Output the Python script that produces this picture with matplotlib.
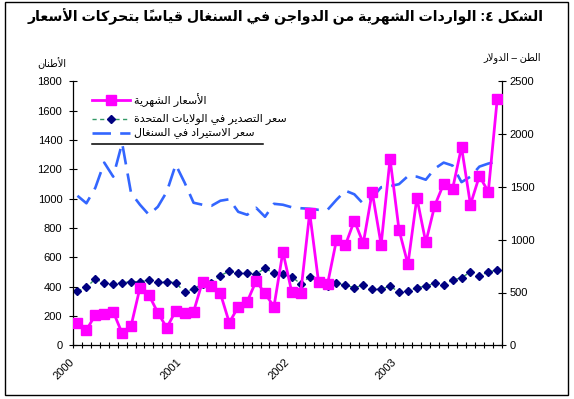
import matplotlib
matplotlib.use('Agg')
import matplotlib.pyplot as plt
from matplotlib.lines import Line2D
from matplotlib.patches import Rectangle
import numpy as np

plt.rcParams['font.family'] = ['Liberation Sans', 'DejaVu Sans']

# ---------------- data ----------------
months = np.arange(48)
year_labels = ['2000', '2001', '2002', '2003']
# monthly imports (tonnes, left axis)
imports_t = [154, 104, 207, 213, 229, 82, 132, 393, 343, 222, 120, 234,
             218, 229, 434, 406, 354, 154, 263, 297, 438, 354, 263, 638,
             361, 359, 904, 429, 418, 718, 684, 850, 695, 1045, 686, 1272,
             788, 552, 1006, 702, 952, 1100, 1066, 1352, 959, 1154, 1047, 1680]
# US export price ($/t, right axis)
us_export = [513, 548, 630, 586, 580, 592, 602, 602, 618, 596, 602, 592,
             504, 535, 580, 592, 659, 703, 681, 681, 675, 729, 681, 675,
             649, 580, 649, 602, 564, 586, 570, 545, 570, 532, 532, 561,
             504, 513, 545, 561, 586, 573, 618, 640, 694, 659, 694, 713]
# Senegal import price ($/t, right axis)
sen_import = [1416, 1345, 1492, 1730, 1597, 1915, 1442, 1331, 1236, 1312, 1454, 1711,
              1540, 1350, 1331, 1321, 1369, 1383, 1264, 1236, 1302, 1217, 1340, 1331,
              1307, 1298, 1293, 1283, 1283, 1378, 1464, 1430, 1340, 1397, 1497, 1507,
              1526, 1602, 1597, 1568, 1673, 1730, 1702, 1545, 1597, 1692, 1721, 1740]

title_txt = 'الشكل ٤: الواردات الشهرية من الدواجن في السنغال قياساً بتحركات الأسعار'
left_unit = 'الأطنان'
right_unit = 'الطن – الدولار'
legend_labels = ['الأسعار الشهرية', 'سعر التصدير في الولايات المتحدة', 'سعر الاستيراد في السنغال']

# ---------------- minimal Arabic shaping ----------------
DUAL = {'ئ': 0xFE89, 'ب': 0xFE8F, 'ت': 0xFE95, 'ث': 0xFE99, 'ج': 0xFE9D, 'ح': 0xFEA1,
        'خ': 0xFEA5, 'س': 0xFEB1, 'ش': 0xFEB5, 'ص': 0xFEB9, 'ض': 0xFEBD, 'ط': 0xFEC1,
        'ظ': 0xFEC5, 'ع': 0xFEC9, 'غ': 0xFECD, 'ف': 0xFED1, 'ق': 0xFED5, 'ك': 0xFED9,
        'ل': 0xFEDD, 'م': 0xFEE1, 'ن': 0xFEE5, 'ه': 0xFEE9, 'ي': 0xFEF1}
RIGHT = {'آ': 0xFE81, 'أ': 0xFE83, 'ؤ': 0xFE85, 'إ': 0xFE87, 'ا': 0xFE8D, 'ة': 0xFE93,
         'د': 0xFEA9, 'ذ': 0xFEAB, 'ر': 0xFEAD, 'ز': 0xFEAF, 'و': 0xFEED, 'ى': 0xFEEF}
NONE = {'ء': 0xFE80}
LAMALEF = {'آ': 0xFEF5, 'أ': 0xFEF7, 'إ': 0xFEF9, 'ا': 0xFEFB}


def shape(text):
    toks = []
    for ch in text:
        if 0x064B <= ord(ch) <= 0x0652 and toks:
            toks[-1][1] += ch
            continue
        toks.append([ch, ''])
    out = []
    i = 0
    while i < len(toks):
        b, m = toks[i]
        if b == 'ل' and i + 1 < len(toks) and toks[i + 1][0] in LAMALEF:
            out.append([b, m + toks[i + 1][1], 'R', LAMALEF[toks[i + 1][0]]])
            i += 2
            continue
        if b in DUAL:
            out.append([b, m, 'D', DUAL[b]])
        elif b in RIGHT:
            out.append([b, m, 'R', RIGHT[b]])
        elif b in NONE:
            out.append([b, m, 'N', NONE[b]])
        else:
            out.append([b, m, None, None])
        i += 1
    glyphs = []
    for j, t in enumerate(out):
        kind = t[2]
        if kind in ('D', 'R'):
            prev = j > 0 and out[j - 1][2] == 'D'
            nxt = kind == 'D' and j + 1 < len(out) and out[j + 1][2] in ('D', 'R')
            if kind == 'D':
                off = 3 if (prev and nxt) else 2 if nxt else 1 if prev else 0
            else:
                off = 1 if prev else 0
            glyphs.append(chr(t[3] + off) + t[1])
        elif kind == 'N':
            glyphs.append(chr(t[3]) + t[1])
        else:
            glyphs.append(t[0] + t[1])
    return ''.join(reversed(glyphs))


# ---------------- figure ----------------
W, H = 574, 399
fig = plt.figure(figsize=(W / 100, H / 100), dpi=100)


def fx(x):
    return x / W


def fy(y):
    return 1 - y / H


ax = fig.add_axes([fx(73), fy(345.3), fx(501.7) - fx(73), fy(81.3) - fy(345.3)])
ax2 = ax.twinx()
ax.set_zorder(ax2.get_zorder() + 1)
ax.patch.set_visible(False)

MAG = '#FF00FF'
GRN = '#339966'
NAV = '#000080'
BLU = '#3366FF'

ax.plot(months, imports_t, color=MAG, lw=2.0, marker='s', ms=7, mec=MAG, mfc=MAG, zorder=5)
ax2.plot(months, us_export, color=GRN, lw=1.0, ls=(0, (3, 2.5)), marker='D', ms=3.6,
         mfc=NAV, mec=NAV, zorder=3)
ax2.plot(months, sen_import, color=BLU, lw=1.9, ls=(0, (7, 3.5)), zorder=2)

ax.set_xlim(-0.5, 47.5)
ax.set_ylim(0, 1800)
ax2.set_ylim(0, 2500)
ax.set_yticks(range(0, 1801, 200))
ax2.set_yticks(range(0, 2501, 500))

ax.set_xticks(np.arange(-0.5, 48, 1), minor=True)
ax.set_xticks([-0.5, 11.5, 23.5, 35.5])
ax.set_xticklabels(year_labels, rotation=45, ha='right', va='center', rotation_mode='anchor')

for a in (ax, ax2):
    a.spines['top'].set_visible(False)
    for s in a.spines.values():
        s.set_linewidth(0.9)
ax.spines['right'].set_visible(False)
ax2.spines['left'].set_visible(False)
ax2.spines['bottom'].set_visible(False)

ax.tick_params(axis='x', which='both', direction='inout', length=4.3, width=0.8)
ax.tick_params(axis='x', which='major', labelsize=8, pad=9)
ax.tick_params(axis='y', direction='inout', length=5.8, width=0.8, labelsize=8, pad=4.8)
ax2.tick_params(axis='y', direction='inout', length=5.8, width=0.8, labelsize=8, pad=2.9)

# titles and unit labels
fig.text(fx(286), fy(17), shape(title_txt), ha='center', va='center', fontsize=10.2,
         fontweight='bold')
fig.text(fx(52), fy(63), shape(left_unit), ha='center', va='center', fontsize=7)
fig.text(fx(512), fy(58), shape(right_unit), ha='center', va='center', fontsize=7)

# legend drawn manually
lx0, lx1, lxm = 91.7, 130, 111
rows_y = [100, 119, 133]
fig.add_artist(Line2D([fx(lx0), fx(lx1)], [fy(rows_y[0])] * 2, transform=fig.transFigure,
                      color=MAG, lw=2.0))
fig.add_artist(Line2D([fx(lxm)], [fy(rows_y[0])], transform=fig.transFigure, marker='s',
                      ms=7, color=MAG))
fig.add_artist(Line2D([fx(lx0), fx(lx1)], [fy(rows_y[1])] * 2, transform=fig.transFigure,
                      color=GRN, lw=1.0, ls=(0, (3, 2.5))))
fig.add_artist(Line2D([fx(lxm)], [fy(rows_y[1])], transform=fig.transFigure, marker='D',
                      ms=3.6, color=NAV))
fig.add_artist(Line2D([fx(lx0), fx(lx1)], [fy(rows_y[2])] * 2, transform=fig.transFigure,
                      color=BLU, lw=1.9, ls=(0, (7, 3.5))))
for yv, lab in zip(rows_y, legend_labels):
    fig.text(fx(134), fy(yv), shape(lab), ha='left', va='center', fontsize=8)
fig.add_artist(Line2D([fx(91.7), fx(263)], [fy(144)] * 2, transform=fig.transFigure,
                      color='black', lw=1.1))

# outer frame
fig.add_artist(Rectangle((fx(5), fy(395)), fx(568) - fx(5), fy(2) - fy(395),
                         transform=fig.transFigure, fill=False, ec='black', lw=1.0))

fig.savefig('out.png', dpi=100)
